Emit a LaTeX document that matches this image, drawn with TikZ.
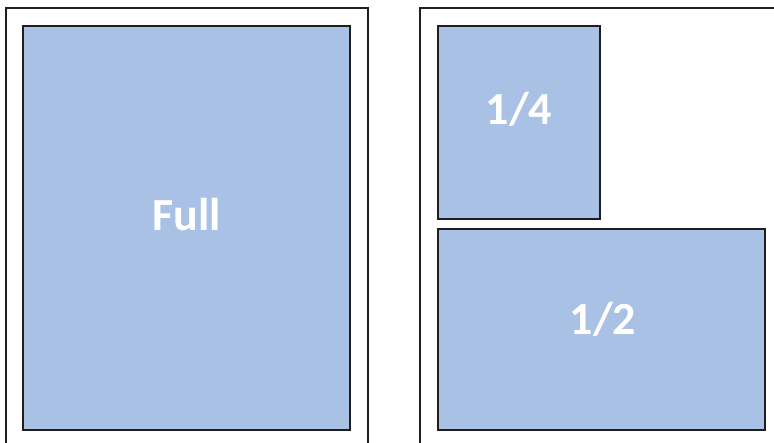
\documentclass[tikz,border=0pt]{standalone}
\usepackage{fontspec}
\setmainfont{Carlito}
\definecolor{panelblue}{RGB}{169,193,229}
\definecolor{edge}{RGB}{30,30,30}
\tikzset{
  frame/.style={draw=edge, line width=2.2pt},
  panel/.style={draw=edge, line width=2.2pt, fill=panelblue, inner sep=0pt, outer sep=0pt},
  lbl/.style={text=white, font=\fontsize{46}{54}\selectfont\bfseries, inner sep=0pt, anchor=base}
}
\begin{document}
\begin{tikzpicture}[x=1pt,y=-1pt]
\useasboundingbox (0,0) rectangle (774,442);
\clip (0,0) rectangle (774,442);
\draw[frame] (6,8) rectangle (368,470);
\draw[frame] (420,8) rectangle (800,470);
\node[panel, minimum width=327pt, minimum height=404pt] (full) at (186.5,228) {};
\node[panel, minimum width=162pt, minimum height=193pt] (quarter) at (519,122.5) {};
\node[panel, minimum width=327pt, minimum height=201pt] (half) at (601.5,329.5) {};
\node[lbl] (tfull) at (187,230) {Full};
\node[lbl] (tquarter) at (519,124) {1/4};
\node[lbl] (thalf) at (603,334.5) {1/2};
\end{tikzpicture}
\end{document}
